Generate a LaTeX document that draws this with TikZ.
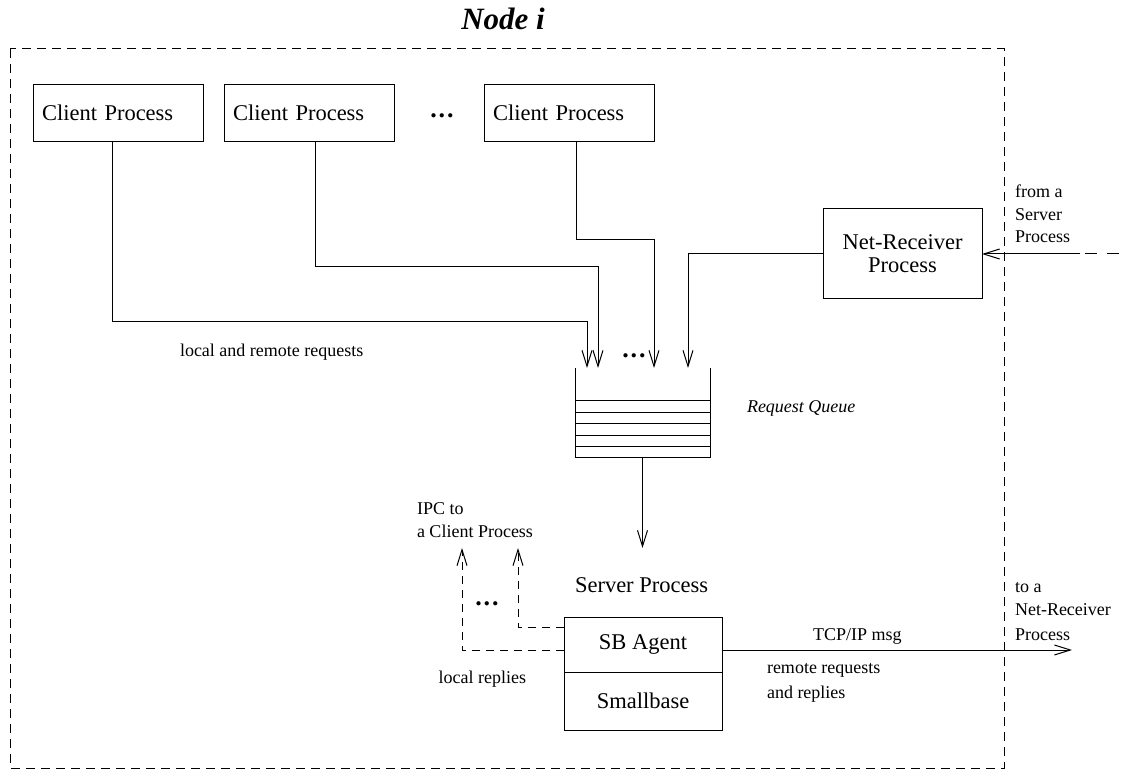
\documentclass[tikz,border=0pt]{standalone}
\usepackage{fontspec}
\setmainfont{Liberation Serif}
\usetikzlibrary{arrows.meta}
\tikzset{
  every node/.style={inner sep=0pt, outer sep=0pt},
  big/.style={font=\fontsize{11.25}{11.5}\selectfont},
  small/.style={font=\fontsize{9}{11}\selectfont},
  title/.style={font=\fontsize{15.5}{18}\selectfont\bfseries\itshape},
  cbox/.style={draw, line width=0.5pt, big, text width=76pt, align=left, inner xsep=4.5pt, minimum height=28.5pt},
  pbox/.style={draw, line width=0.5pt, big, align=center},
  conn/.style={line width=0.5pt},
  arr/.style={conn, -{Straight Barb[length=8pt,width=5pt]}},
  darr/.style={arr, dash pattern=on 4pt off 3pt},
  frame/.style={line width=0.5pt, dash pattern=on 4.5pt off 3pt},
  dots/.style={font=\fontsize{13}{14}\selectfont\bfseries, anchor=base},
}
\newcommand{\mydots}{.\kern1pt.\kern1pt.}
\begin{document}
\begin{tikzpicture}[x=0.5pt, y=-0.5pt]
\useasboundingbox (0,0) rectangle (1124,774);

% title and frame
\node[title, anchor=base] (ttl) at (503,30) {Node i};
\draw[frame] (10,49) rectangle (1004,768);

% client processes
\node[cbox] (c1) at (118,113) {Client Process};
\node[cbox] (c2) at (309,113) {Client Process};
\node[cbox] (c3) at (569,113) {Client Process};
\node[dots] (d1) at (442,118) {\mydots};

% net receiver
\node[pbox, minimum width=79.5pt, minimum height=45pt] (nr) at (902.5,254) {Net-Receiver\\Process};

% request queue
\node[minimum width=67.5pt, minimum height=45pt] (q) at (642.5,413) {};
\draw[conn] (q.north west) -- (q.south west) -- (q.south east) -- (q.north east);
\foreach \yy in {401,413,424,436,447} \draw[conn] (575,\yy) -- (710,\yy);
\node[small, font=\fontsize{9}{11}\selectfont\itshape, anchor=base west] (rq) at (747,413) {Request Queue};
\node[dots] (d2) at (634,358) {\mydots};

% arrow targets on queue
\coordinate (a1) at (587,368);
\coordinate (a2) at (598,368);
\coordinate (a3) at (654,368);
\coordinate (a4) at (688,368);
\coordinate (v1) at (112,322);
\coordinate (v2) at (315,267);
\coordinate (v3) at (576,240);

\draw[arr] (c1.south -| v1) -- (v1) -| (a1);
\draw[arr] (c2.south -| v2) -- (v2) -| (a2);
\draw[arr] (c3.south -| v3) -- (v3) -| (a3);
\draw[arr] (nr.west) -| (a4);

\node[small, anchor=base west] (lrr) at (180,357) {local and remote requests};

% incoming from server process
\coordinate (in0) at (1124,254);
\coordinate (in1) at (1080,254);
\coordinate (in2) at (1085,254);
\draw[conn, dash pattern=on 6pt off 5pt] (in2) -- (in0);
\draw[arr] (in1) -- (nr.east);
\node[small, anchor=base west] (fa1) at (1015,198) {from a};
\node[small, anchor=base west] (fa2) at (1015,221) {Server};
\node[small, anchor=base west] (fa3) at (1015,243) {Process};

% server process
\node[big, anchor=base west] (sp) at (575,593) {Server Process};
\coordinate (dq) at (642.5,548);
\draw[arr] (q.south) -- (dq);
\node[pbox, minimum width=79pt, minimum height=27.5pt] (sb) at (643,644.5) {SB Agent};
\node[pbox, minimum width=79pt, minimum height=29pt, anchor=north] (smb) at (sb.south) {Smallbase};

% local replies
\coordinate (r1) at (518,627);
\coordinate (r1t) at (518,548);
\coordinate (r2) at (462,650);
\coordinate (r2t) at (462,548);
\draw[darr] (sb.west |- r1) -- (r1) -- (r1t);
\draw[darr] (sb.west |- r2) -- (r2) -- (r2t);
\node[dots] (d3) at (487,605) {\mydots};
\node[small, anchor=base west] (ipc1) at (417,515) {IPC to};
\node[small, anchor=base west] (ipc2) at (417,538) {a Client Process};
\node[small, anchor=base east] (lr) at (526,683) {local replies};

% outgoing TCP/IP
\coordinate (tcp) at (1072,650);
\draw[arr] (sb.east |- tcp) -- (tcp);
\node[small, anchor=base west] (tm) at (813,640) {TCP/IP msg};
\node[small, anchor=base west] (rr1) at (767,673) {remote requests};
\node[small, anchor=base west] (rr2) at (767,698) {and replies};
\node[small, anchor=base west] (ta1) at (1015,593) {to a};
\node[small, anchor=base west] (ta2) at (1015,615) {Net-Receiver};
\node[small, anchor=base west] (ta3) at (1015,640) {Process};
\end{tikzpicture}
\end{document}
